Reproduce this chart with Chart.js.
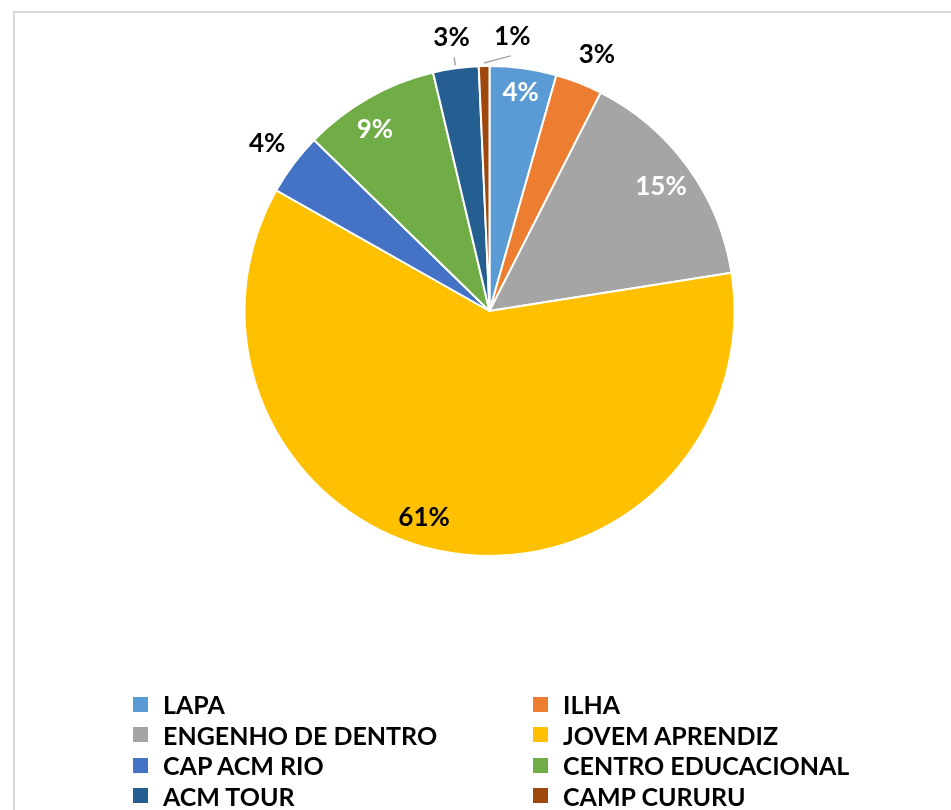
<!DOCTYPE html>
<html>
<head>
<meta charset="utf-8">
<script src="https://cdn.jsdelivr.net/npm/chart.js@4/dist/chart.umd.min.js"></script>
<style>
html,body{margin:0;padding:0;background:#fff;}
#wrap{position:relative;width:951px;height:810px;overflow:hidden;background:#fff;}
#frame{position:absolute;left:13px;top:11px;width:1000px;height:900px;border-left:2px solid #d9d9d9;border-top:2px solid #d9d9d9;box-sizing:border-box;}
#c{position:absolute;left:0;top:0;}
#legend{position:absolute;left:133px;top:689px;display:grid;grid-template-columns:400px 400px;font-family:Lato,"Open Sans",sans-serif;font-weight:700;font-size:25px;color:#000;}
#legend .it{display:flex;align-items:center;height:30.5px;white-space:nowrap;}
#legend .bx{width:15px;height:15px;margin-right:15px;flex:none;}
</style>
</head>
<body>
<div id="wrap">
  <div id="frame"></div>
  <canvas id="c" width="951" height="810"></canvas>
  <div id="legend"></div>
</div>
<script>
// ---- data ----
const categories = ["LAPA", "ILHA", "ENGENHO DE DENTRO", "JOVEM APRENDIZ", "CAP ACM RIO", "CENTRO EDUCACIONAL", "ACM TOUR", "CAMP CURURU"];
const shares = [4.4, 3.1, 15.0, 60.7, 4.1, 9.0, 3.0, 0.7];
const colors = ["#5B9BD5", "#ED7D31", "#A5A5A5", "#FFC000", "#4472C4", "#70AD47", "#255E91", "#9E480E"];

// ---- label style (placement relative to each slice) ----
const labelColor = ["#fff", "#000", "#fff", "#000", "#000", "#fff", "#000", "#000"];
const labelRadius = [0.9, 1.135, 0.865, 0.885, 1.135, 0.875, 1.125, 1.125];
const labelShiftDeg = [0.2, 1.3, 0, 7.3, 0, -2.8, 0, 6];
const labelLeader = [false, false, false, false, false, false, true, true];

const sliceLabels = {
  id: 'sliceLabels',
  afterDatasetsDraw(chart) {
    const ctx = chart.ctx;
    const meta = chart.getDatasetMeta(0);
    const data = chart.data.datasets[0].data;
    const total = data.reduce((a, b) => a + b, 0);
    ctx.save();
    meta.data.forEach((arc, i) => {
      const p = arc.getProps(['x', 'y', 'startAngle', 'endAngle', 'outerRadius'], true);
      const mid = (p.startAngle + p.endAngle) / 2;
      const ang = mid + labelShiftDeg[i] * Math.PI / 180;
      const r = p.outerRadius * labelRadius[i];
      const lx = p.x + Math.cos(ang) * r;
      const ly = p.y + Math.sin(ang) * r;
      if (labelLeader[i]) {
        const r1 = p.outerRadius + 11, r2 = p.outerRadius + 3;
        ctx.beginPath();
        ctx.moveTo(p.x + Math.cos(ang) * r1, p.y + Math.sin(ang) * r1);
        ctx.lineTo(p.x + Math.cos(mid) * r2, p.y + Math.sin(mid) * r2);
        ctx.strokeStyle = '#a6a6a6';
        ctx.lineWidth = 1.5;
        ctx.stroke();
      }
      ctx.font = 'bold 26px Lato, "Open Sans", sans-serif';
      ctx.fillStyle = labelColor[i];
      ctx.textAlign = 'center';
      ctx.textBaseline = 'middle';
      ctx.fillText(Math.round(data[i] / total * 100) + '%', lx, ly);
    });
    ctx.restore();
  }
};

const chart = new Chart(document.getElementById('c'), {
  type: 'pie',
  data: {
    labels: categories,
    datasets: [{
      data: shares,
      backgroundColor: colors,
      borderColor: '#ffffff',
      borderWidth: 2
    }]
  },
  options: {
    responsive: false,
    animation: false,
    devicePixelRatio: 1,
    layout: { padding: { left: 243, right: 215, top: 65, bottom: 253 } },
    plugins: {
      legend: { display: false },
      tooltip: { enabled: false }
    }
  },
  plugins: [sliceLabels]
});

// HTML legend built from the chart's own legend items
const items = Chart.overrides.pie.plugins.legend.labels.generateLabels(chart);
const leg = document.getElementById('legend');
items.forEach(it => {
  const d = document.createElement('div');
  d.className = 'it';
  const b = document.createElement('span');
  b.className = 'bx';
  b.style.background = it.fillStyle;
  const t = document.createElement('span');
  t.textContent = it.text;
  d.appendChild(b); d.appendChild(t);
  leg.appendChild(d);
});
</script>
</body>
</html>
